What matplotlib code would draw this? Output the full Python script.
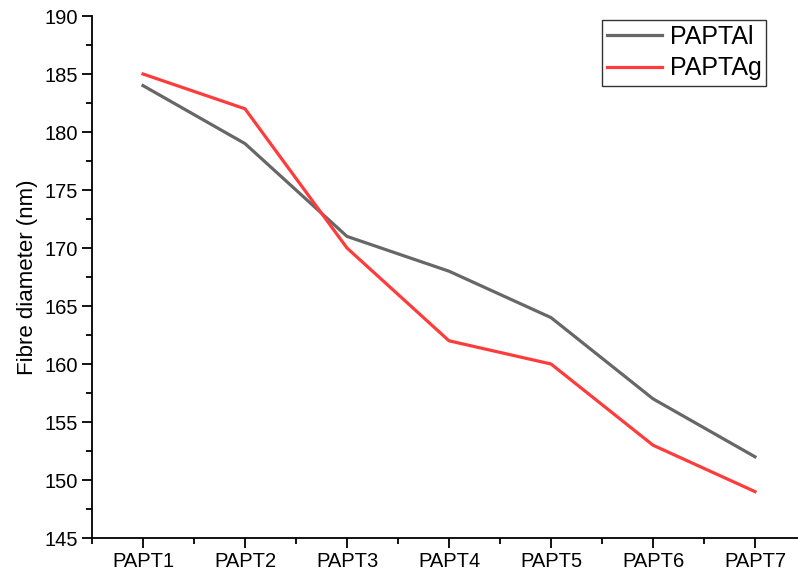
import matplotlib
matplotlib.use("Agg")
import matplotlib.pyplot as plt
from matplotlib.ticker import MultipleLocator, FixedLocator

categories = ["PAPT1", "PAPT2", "PAPT3", "PAPT4", "PAPT5", "PAPT6", "PAPT7"]
papt_al = [184, 179, 171, 168, 164, 157, 152]
papt_ag = [185, 182, 170, 162, 160, 153, 149]

plt.rcParams['font.family'] = ['Liberation Sans', 'DejaVu Sans']

fig = plt.figure(figsize=(7.98, 5.75), dpi=100)
W, H = 798, 575
left, right, top, bottom = 92, 806, 16, 538
ax = fig.add_axes([left / W, 1 - bottom / H, (right - left) / W, (bottom - top) / H])

x = list(range(1, len(categories) + 1))
ax.plot(x, papt_al, color="#676767", lw=2.3, label="PAPTAl", solid_joinstyle='round')
ax.plot(x, papt_ag, color="#FF3B3B", lw=2.3, label="PAPTAg", solid_joinstyle='round')

ax.set_xlim(0.5, 7.5)
ax.set_ylim(145, 190)
ax.set_xticks(x)
ax.set_xticklabels(categories)
ax.xaxis.set_minor_locator(FixedLocator([i + 0.5 for i in range(0, 8)]))
ax.yaxis.set_major_locator(MultipleLocator(5))
ax.yaxis.set_minor_locator(MultipleLocator(2.5))

for s in ["top", "right"]:
    ax.spines[s].set_visible(False)
for s in ["left", "bottom"]:
    ax.spines[s].set_linewidth(1.3)

ax.tick_params(which="major", direction="out", length=7, width=1.3, labelsize=14.5, pad=3)
ax.tick_params(which="minor", direction="out", length=4, width=1.3)
ax.set_ylabel("Fibre diameter (nm)", fontsize=16, labelpad=5)

leg = ax.legend(loc="upper left", bbox_to_anchor=((602 - left) / (right - left), 1 - (20 - top) / (bottom - top)),
                fontsize=18, frameon=True, fancybox=False, edgecolor="black",
                handlelength=2.2, handletextpad=0.3, borderpad=0.2, labelspacing=0.3,
                borderaxespad=0)
leg.get_frame().set_linewidth(1.0)

fig.savefig("out.png", dpi=100)
